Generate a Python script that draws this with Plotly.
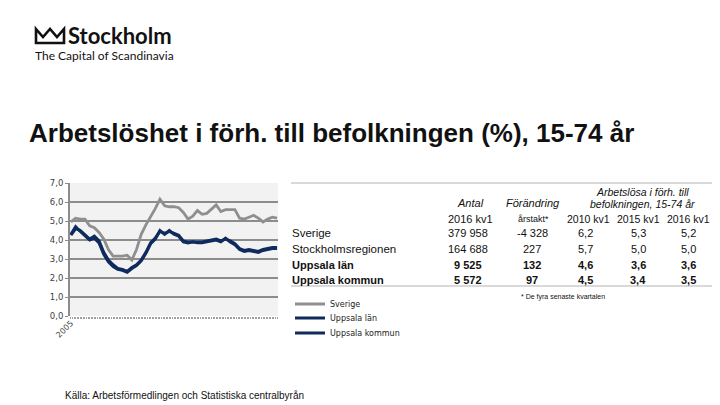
import plotly.graph_objects as go

# the page body has an 8px margin; the figure fills the rest of the 720x405 window
OFF = 8
W, H = 720 - OFF, 405 - OFF

# ---- data (quarterly, 2005 kv1 .. 2016 kv1) ----
quarters = list(range(45))
sverige = [4.95, 5.15, 5.1, 5.1, 4.75, 4.65, 4.4, 4.05, 3.5, 3.15, 3.15, 3.15, 3.2, 2.95, 3.5,
           4.3, 4.8, 5.2, 5.65, 6.15, 5.8, 5.75, 5.75, 5.7, 5.45, 5.1, 5.25, 5.55, 5.35, 5.4,
           5.6, 5.85, 5.5, 5.6, 5.6, 5.6, 5.15, 5.1, 5.2, 5.3, 5.15, 4.95, 5.1, 5.2, 5.15]
uppsala_lan = [4.25, 4.6, 4.5, 4.3, 4.05, 4.2, 3.95, 3.35, 2.95, 2.7, 2.5, 2.45, 2.35, 2.55, 2.7,
               2.95, 3.35, 3.85, 4.1, 4.45, 4.35, 4.45, 4.35, 4.25, 3.95, 3.9, 3.9, 3.9, 3.9, 3.95,
               4.0, 4.05, 3.95, 4.05, 3.95, 3.8, 3.55, 3.45, 3.5, 3.45, 3.4, 3.5, 3.55, 3.6, 3.6]
uppsala_kommun = [4.3, 4.7, 4.45, 4.25, 4.0, 4.1, 3.85, 3.25, 2.85, 2.6, 2.45, 2.4, 2.3, 2.5, 2.65,
                  2.9, 3.3, 3.8, 4.05, 4.5, 4.3, 4.5, 4.3, 4.2, 3.9, 3.85, 3.9, 3.85, 3.85, 3.9,
                  3.95, 4.0, 3.9, 4.1, 3.9, 3.75, 3.5, 3.4, 3.45, 3.4, 3.35, 3.45, 3.5, 3.55, 3.55]
x_ticklabels = ["2005"]
y_ticks = [0, 1, 2, 3, 4, 5, 6, 7]

table_rows = ["Sverige", "Stockholmsregionen", "Uppsala län", "Uppsala kommun"]
antal = ["379 958", "164 688", "9 525", "5 572"]
forandring = ["-4 328", "227", "132", "97"]
kv2010 = ["6,2", "5,7", "4,6", "4,5"]
kv2015 = ["5,3", "5,0", "3,6", "3,4"]
kv2016 = ["5,2", "5,0", "3,6", "3,5"]
bold_rows = [False, False, True, True]

GRAY = "#8f8f8f"
NAVY = "#0f2a5c"

def px(x):
    return (x - OFF) / W

def py(y):
    return 1 - (y - OFF) / H

fig = go.Figure()
fig.add_trace(go.Scatter(x=quarters, y=sverige, name="Sverige", mode="lines", legend="legend",
                         line=dict(color=GRAY, width=2.8)))
fig.add_trace(go.Scatter(x=quarters, y=uppsala_lan, name="Uppsala län", mode="lines", legend="legend2",
                         line=dict(color=NAVY, width=3)))
fig.add_trace(go.Scatter(x=quarters, y=uppsala_kommun, name="Uppsala kommun", mode="lines", legend="legend3",
                         line=dict(color=NAVY, width=3)))

def leg(ycenter):
    return dict(x=px(290), y=py(ycenter), xanchor="left", yanchor="middle",
                font=dict(family="DejaVu Sans", size=8, color="#222"),
                bgcolor="rgba(0,0,0,0)", itemwidth=30)

fig.update_layout(
    width=W, height=H,
    margin=dict(l=0, r=0, t=0, b=0, pad=0, autoexpand=False),
    paper_bgcolor="white",
    plot_bgcolor="#f2f2f2",
    font=dict(family="DejaVu Sans", size=8, color="#404040"),
    showlegend=True,
    legend=leg(304), legend2=leg(318), legend3=leg(333),
    xaxis=dict(domain=[px(70), px(278)], range=[-0.2, 44.2], automargin=False,
               tickmode="array", tickvals=[0], ticktext=x_ticklabels, tickangle=-45,
               ticks="", showgrid=False, zeroline=False, showline=False,
               tickfont=dict(family="DejaVu Sans", size=8, color="#404040"),
               minor=dict(tickmode="linear", tick0=0, dtick=1/3, ticks="outside",
                          ticklen=2, tickwidth=1, tickcolor="#a0a0a0", showgrid=False)),
    yaxis=dict(domain=[py(316), py(183)], range=[0, 7], automargin=False,
               tickmode="array", tickvals=y_ticks,
               ticktext=[f"{v},0" for v in y_ticks],
               showgrid=True, gridcolor="#8c8c8c", gridwidth=2,
               zeroline=False, showline=True, linecolor="#8c8c8c", linewidth=2,
               ticks="outside", ticklen=3, tickcolor="#8c8c8c",
               tickfont=dict(family="DejaVu Sans", size=8.5, color="#404040")),
)

# ---- logo ----
crown = [(36, 29), (43, 37), (50, 29), (57, 37), (64, 29), (64, 43), (36, 43)]
path = "M " + " L ".join(f"{px(a)},{py(b)}" for a, b in crown) + " Z"
fig.add_shape(type="path", path=path, xref="paper", yref="paper",
              line=dict(color="#111", width=2.6), fillcolor="rgba(0,0,0,0)")
ann = []

def t(x, y, s, anchor="center", size=11, italic=False, bold=False, color="#111", family="Liberation Sans"):
    if bold:
        s = f"<b>{s}</b>"
    if italic:
        s = f"<i>{s}</i>"
    ann.append(dict(x=px(x), y=py(y), xref="paper", yref="paper", text=s,
                    xanchor=anchor, yanchor="middle",
                    font=dict(family=family, size=size, color=color), showarrow=False))

t(66, 35, "Stockholm", anchor="left", size=22, bold=True, family="Lato")
t(33, 55, "The Capital of Scandinavia", anchor="left", size=12, family="Lato")

# ---- title ----
t(27, 133, "Arbetslöshet i förh. till befolkningen (%), 15-74 år", anchor="left", size=26, bold=True)

# ---- table ----
t(470, 203, "Antal", italic=True)
t(533, 203, "Förändring", italic=True)
t(642, 192, "Arbetslösa i förh. till", italic=True, size=10.5)
t(642, 204, "befolkningen, 15-74 år", italic=True, size=10.5)
t(470, 219, "2016 kv1")
t(533, 219, "årstakt*", size=9)
t(588, 219, "2010 kv1", size=10.5)
t(638, 219, "2015 kv1", size=10.5)
t(688, 219, "2016 kv1", size=10.5)

row_y = [233, 249, 265, 280]
for i, name in enumerate(table_rows):
    y = row_y[i]
    b = bold_rows[i]
    t(290, y, name, anchor="left", bold=b, size=11 if b else 11.5)
    t(468, y, antal[i], bold=b)
    t(532, y, forandring[i], bold=b)
    t(585, y, kv2010[i], bold=b)
    t(638, y, kv2015[i], bold=b)
    t(688, y, kv2016[i], bold=b)

t(519, 297, "* De fyra senaste kvartalen", anchor="left", size=7)

for yy in (183, 286):
    fig.add_shape(type="line", xref="paper", yref="paper", x0=px(291), x1=px(713),
                  y0=py(yy), y1=py(yy), line=dict(color="#d9d9d9", width=2))

# ---- source ----
t(63, 395, "Källa: Arbetsförmedlingen och Statistiska centralbyrån", anchor="left", size=10)

fig.update_layout(annotations=ann)
fig.write_html("out.html")
